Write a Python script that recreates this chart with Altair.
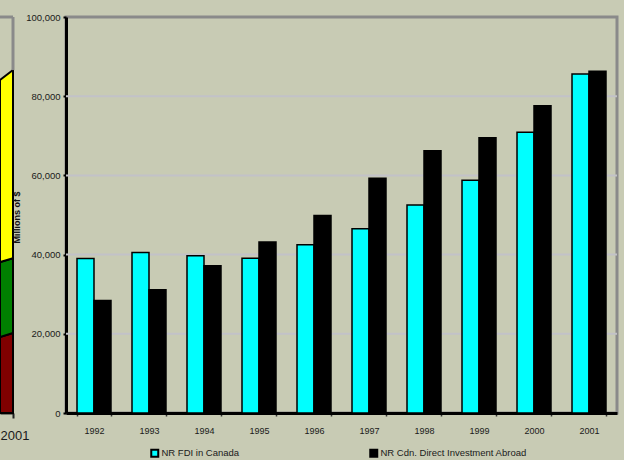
import altair as alt
import pandas as pd

# ---- main chart data (millions of $) ----
years = ["1992", "1993", "1994", "1995", "1996", "1997", "1998", "1999", "2000", "2001"]
fdi_in_canada = [39000, 40500, 39700, 39100, 42500, 46500, 52500, 58800, 70900, 85600]
cdn_abroad = [28400, 31100, 37200, 43200, 49900, 59300, 66200, 69500, 77600, 86300]
series_names = ["NR FDI in Canada", "NR Cdn. Direct Investment Abroad"]
series_colors = ["#00ffff", "#000000"]
y_ticks = [0, 20000, 40000, 60000, 80000, 100000]
grid_values = [20000, 40000, 60000, 80000]

# ---- cut-off neighbouring chart on the left ----
left_x = [2000, 2001]
left_layers = ["red", "green", "yellow"]
left_red = [19200, 20200]
left_green = [18900, 18900]
left_yellow = [46000, 47500]
left_colors = ["#800000", "#008000", "#ffff00"]

FONT = "Liberation Sans"
BG = "#c8cbb4"

df = pd.DataFrame({
    "year": years * 2,
    "series": [series_names[0]] * len(years) + [series_names[1]] * len(years),
    "value": fdi_in_canada + cdn_abroad,
})

yscale = alt.Scale(domain=[0, 100000], nice=False)

grid = alt.Chart(pd.DataFrame({"g": grid_values})).mark_rule(
    color="#c2c2c8", strokeWidth=2).encode(y=alt.Y("g:Q", scale=yscale))

bars = alt.Chart(df).mark_bar(stroke="black", strokeWidth=1.5).encode(
    x=alt.X("year:N", sort=years,
            scale=alt.Scale(paddingInner=0.382, paddingOuter=0.2),
            axis=alt.Axis(title=None, labelAngle=0, labelFontSize=9, labelColor="#1a1a1a",
                          labelPadding=10, domainColor="black", domainWidth=3,
                          tickBand="extent", tickColor="#333333", tickSize=3, tickWidth=1.5)),
    xOffset=alt.XOffset("series:N", sort=series_names,
                        scale=alt.Scale(paddingInner=0, paddingOuter=0)),
    y=alt.Y("value:Q", scale=yscale,
            axis=alt.Axis(values=y_ticks, format=",d", labelFontSize=9.5, labelColor="#1a1a1a",
                          labelPadding=3, domainColor="black", domainWidth=3,
                          tickColor="black", tickSize=3, tickWidth=2, grid=False,
                          title="Millions of $", titleFontSize=9, titleFontWeight="bold",
                          titleColor="#111111", titleX=-50, titleY=200, titleBaseline="middle")),
    color=alt.Color("series:N", sort=series_names,
                    scale=alt.Scale(domain=series_names, range=series_colors),
                    legend=alt.Legend(title=None, orient="none", direction="horizontal",
                                      legendX=84, legendY=431, symbolType="square", symbolSize=49,
                                      symbolStrokeColor="black", symbolStrokeWidth=2,
                                      labelFontSize=9.5, labelColor="#1a1a1a", labelOffset=2,
                                      columnPadding=126)),
)

main = alt.layer(grid, bars).properties(width=551, height=396)

# left partial chart
rows = []
for i, lx in enumerate(left_x):
    for k, (name, vals) in enumerate(zip(left_layers, [left_red, left_green, left_yellow])):
        rows.append({"x": lx, "layer": name, "v": vals[i], "order": k})
ldf = pd.DataFrame(rows)
left_top = left_red[-1] + left_green[-1] + left_yellow[-1]

lx_scale = alt.Scale(domain=left_x, nice=False)

area = alt.Chart(ldf).mark_area(stroke="black", strokeWidth=2, interpolate="linear").encode(
    x=alt.X("x:Q", scale=lx_scale,
            axis=alt.Axis(values=[2001], format="d", title=None, labelFontSize=13,
                          labelColor="#1a1a1a", labelAlign="left", labelOffset=-13,
                          labelPadding=11, domainColor="#222222", domainWidth=2,
                          tickColor="#222222", tickSize=5, tickWidth=2, grid=False)),
    y=alt.Y("v:Q", stack="zero", scale=yscale, axis=None),
    color=alt.Color("layer:N", sort=left_layers,
                    scale=alt.Scale(domain=left_layers, range=left_colors), legend=None),
    order=alt.Order("order:Q"),
)

frame_top = alt.Chart(pd.DataFrame({"x": [left_x[0]], "x2": [left_x[1]], "y": [100000]})).mark_rule(
    color="#8a8a8a", strokeWidth=3).encode(x="x:Q", x2="x2:Q", y="y:Q")
frame_right = alt.Chart(pd.DataFrame({"x": [left_x[1]], "y": [left_top], "y2": [100000]})).mark_rule(
    color="#8a8a8a", strokeWidth=3).encode(x="x:Q", y="y:Q", y2="y2:Q")

left = alt.layer(area, frame_top, frame_right).properties(
    width=13, height=396, view=alt.ViewBackground(strokeOpacity=0))

chart = alt.hconcat(left, main, spacing=53, bounds="flush").resolve_scale(
    color="independent"
).properties(
    background=BG,
    padding={"left": -4, "top": 10, "right": 4, "bottom": 1},
).configure(font=FONT).configure_view(stroke="#8a8a8a", strokeWidth=3)

chart.save("out.html", embed_options={"renderer": "svg", "actions": False})
